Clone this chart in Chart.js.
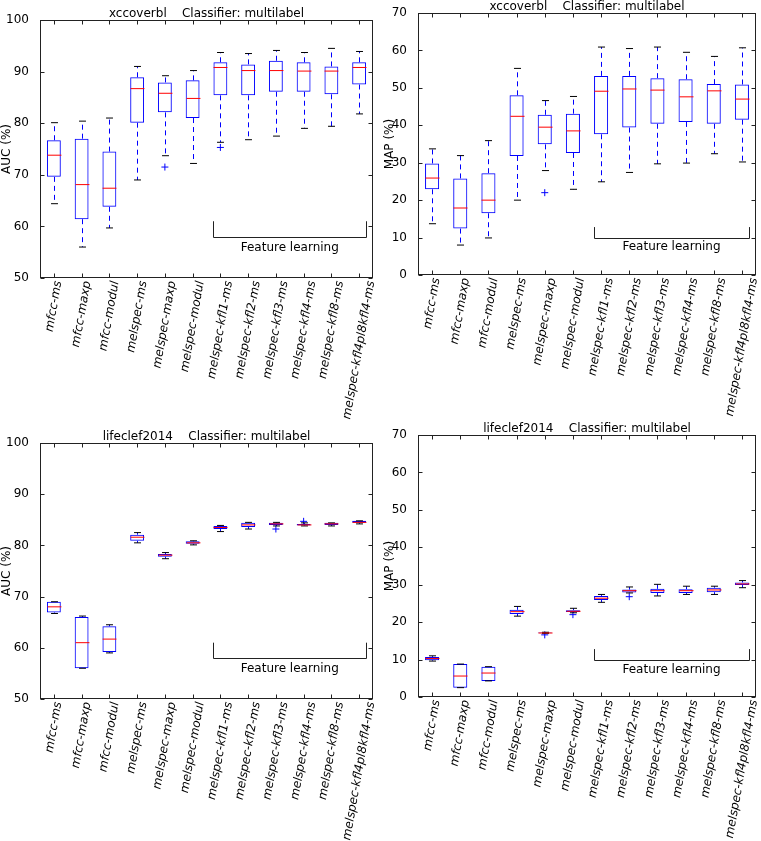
<!DOCTYPE html>
<html lang="en">
<head>
<meta charset="UTF-8">
<title>Boxplots - AUC / MAP</title>
<script src="https://cdn.jsdelivr.net/npm/chart.js"></script>
<style>
  body { margin: 0; background: #fff; }
  canvas { position: absolute; }
</style>
</head>
<body>
<canvas id="c1" width="380" height="420" style="left:0;top:0"></canvas>
<canvas id="c2" width="381" height="420" style="left:380px;top:0"></canvas>
<canvas id="c3" width="380" height="421" style="left:0;top:420px"></canvas>
<canvas id="c4" width="381" height="421" style="left:380px;top:420px"></canvas>
<script>
const categories = ['mfcc-ms', 'mfcc-maxp', 'mfcc-modul', 'melspec-ms', 'melspec-maxp', 'melspec-modul',
  'melspec-kfl1-ms', 'melspec-kfl2-ms', 'melspec-kfl3-ms', 'melspec-kfl4-ms', 'melspec-kfl8-ms', 'melspec-kfl4pl8kfl4-ms'];

// xccoverbl - AUC
const aucXcMin = [64.4, 56.0, 59.7, 69.0, 73.7, 72.2, 76.3, 76.8, 77.5, 79.0, 79.4, 81.8];
const aucXcQ1  = [69.6, 61.4, 63.8, 80.1, 82.1, 81.0, 85.4, 85.4, 86.1, 86.1, 85.6, 87.5];
const aucXcMed = [73.8, 68.1, 67.4, 86.7, 85.8, 84.8, 90.8, 90.2, 90.2, 90.1, 90.1, 90.8];
const aucXcQ3  = [76.7, 77.0, 74.5, 88.9, 87.9, 88.3, 91.8, 91.4, 92.1, 91.8, 91.0, 91.8];
const aucXcMax = [80.1, 80.4, 81.0, 91.0, 89.2, 90.2, 93.7, 93.5, 94.1, 93.7, 94.5, 93.9];
const aucXcOut = [[4, 71.5], [6, 75.3]];

// xccoverbl - MAP
const mapXcMin = [13.7, 8.0, 9.9, 20.0, 27.9, 22.9, 24.9, 27.4, 29.7, 29.9, 32.4, 30.2];
const mapXcQ1  = [22.9, 12.4, 16.5, 31.8, 34.9, 32.6, 37.6, 39.4, 40.4, 40.9, 40.4, 41.5];
const mapXcMed = [25.9, 17.9, 20.0, 42.4, 39.5, 38.5, 49.1, 49.7, 49.4, 47.6, 49.2, 47.0];
const mapXcQ3  = [29.8, 25.8, 27.2, 48.0, 42.8, 43.1, 53.2, 53.2, 52.6, 52.3, 51.0, 50.9];
const mapXcMax = [33.7, 31.9, 35.9, 55.2, 46.6, 47.7, 60.9, 60.5, 60.9, 59.5, 58.4, 60.7];
const mapXcOut = [[4, 22.0]];

// lifeclef2014 - AUC
const aucLcMin = [66.7, 56.0, 59.0, 80.5, 77.4, 80.1, 82.7, 83.2, 83.8, 83.8, 83.8, 84.2];
const aucLcQ1  = [66.9, 56.0, 59.2, 80.9, 77.8, 80.3, 83.2, 83.6, 84.0, 83.9, 84.0, 84.4];
const aucLcMed = [68.0, 61.0, 61.7, 81.6, 78.1, 80.5, 83.5, 84.0, 84.2, 84.0, 84.2, 84.5];
const aucLcQ3  = [69.0, 66.0, 64.2, 82.1, 78.3, 80.8, 83.8, 84.4, 84.4, 84.2, 84.4, 84.8];
const aucLcMax = [69.0, 66.2, 64.5, 82.5, 78.6, 80.9, 83.9, 84.5, 84.5, 84.4, 84.4, 84.8];
const aucLcOut = [[8, 83.2], [9, 84.7]];

// lifeclef2014 - MAP
const mapLcMin = [9.6, 2.5, 4.3, 21.6, 17.0, 22.5, 25.3, 27.8, 27.0, 27.4, 27.4, 29.2];
const mapLcQ1  = [9.8, 2.5, 4.3, 22.2, 17.0, 22.7, 25.9, 27.9, 27.8, 27.8, 28.0, 29.9];
const mapLcMed = [10.3, 5.6, 6.4, 22.8, 17.1, 22.9, 26.4, 28.4, 28.4, 28.4, 28.6, 30.2];
const mapLcQ3  = [10.7, 8.8, 8.1, 23.3, 17.2, 23.2, 27.0, 28.7, 28.9, 28.8, 29.2, 30.6];
const mapLcMax = [11.0, 8.8, 8.1, 24.2, 17.3, 23.7, 27.4, 29.4, 30.1, 29.6, 29.6, 31.1];
const mapLcOut = [[4, 16.6], [5, 22.0], [7, 26.8]];

const FONT = 'DejaVu Sans';
Chart.defaults.font.family = FONT;
Chart.defaults.font.size = 12;
Chart.defaults.color = '#000';

// bracket under the feature learning boxes (category index units)
const bracketFrom = 5.75, bracketTo = 11.25;

function partsPlugin(p) {
  return {
    id: 'parts',
    afterDatasetsDraw(chart) {
      const xs = chart.scales.x, ys = chart.scales.y, ctx = chart.ctx;
      const step = xs.getPixelForValue(1) - xs.getPixelForValue(0);
      const y = v => ys.getPixelForValue(v);
      ctx.save();
      ctx.lineWidth = 1;
      p.med.forEach((m, i) => {
        const x = Math.round(xs.getPixelForValue(i)) + 0.5;
        // whiskers
        ctx.strokeStyle = '#0000ff';
        ctx.setLineDash([5, 4]);
        ctx.beginPath();
        ctx.moveTo(x, y(p.q3[i])); ctx.lineTo(x, y(p.max[i]));
        ctx.moveTo(x, y(p.q1[i])); ctx.lineTo(x, y(p.min[i]));
        ctx.stroke();
        ctx.setLineDash([]);
        // caps
        const cw = step * 0.125;
        ctx.strokeStyle = '#000';
        ctx.beginPath();
        ctx.moveTo(x - cw, y(p.max[i])); ctx.lineTo(x + cw, y(p.max[i]));
        ctx.moveTo(x - cw, y(p.min[i])); ctx.lineTo(x + cw, y(p.min[i]));
        ctx.stroke();
        // median
        const bw = step * 0.25;
        ctx.strokeStyle = '#ff0000';
        ctx.beginPath();
        ctx.moveTo(x - bw, y(m)); ctx.lineTo(x + bw, y(m));
        ctx.stroke();
      });
      ctx.restore();
    },
    afterDraw(chart) {
      const xs = chart.scales.x, ys = chart.scales.y, ctx = chart.ctx;
      const a = chart.chartArea;
      ctx.save();
      // frame
      ctx.strokeStyle = '#222';
      ctx.lineWidth = 1;
      const L = Math.round(a.left) + 0.5, R = Math.round(a.right) - 0.5;
      const T = Math.round(a.top) + 0.5, B = Math.round(a.bottom) - 0.5;
      ctx.strokeRect(L, T, R - L, B - T);
      // inward ticks on all sides
      ctx.beginPath();
      ys.ticks.forEach(t => {
        const yy = Math.round(ys.getPixelForValue(t.value)) + 0.5;
        ctx.moveTo(L, yy); ctx.lineTo(L + 4, yy);
        ctx.moveTo(R, yy); ctx.lineTo(R - 4, yy);
      });
      categories.forEach((c, i) => {
        const xx = Math.round(xs.getPixelForValue(i)) + 0.5;
        ctx.moveTo(xx, B); ctx.lineTo(xx, B - 4);
        ctx.moveTo(xx, T); ctx.lineTo(xx, T + 4);
      });
      ctx.stroke();
      // title
      ctx.fillStyle = '#000';
      ctx.font = '12px "' + FONT + '"';
      ctx.textAlign = 'center';
      ctx.textBaseline = 'alphabetic';
      ctx.fillText(p.title, (a.left + a.right) / 2, a.top - 3.5);
      // rotated category labels, centred on their tick like matplotlib
      ctx.font = 'italic 12px "' + FONT + '"';
      const ang = 80 * Math.PI / 180;
      categories.forEach((c, i) => {
        const w = ctx.measureText(c).width, h = 13;
        const H = w * Math.sin(ang) + h * Math.cos(ang);
        ctx.save();
        ctx.translate(xs.getPixelForValue(i), a.bottom + 2 + H / 2);
        ctx.rotate(-ang);
        ctx.textBaseline = 'middle';
        ctx.fillText(c, 0, 0);
        ctx.restore();
      });
      // feature learning bracket
      const x0 = xs.getPixelForValue(bracketFrom), x1 = xs.getPixelForValue(bracketTo);
      const yHi = ys.getPixelForValue(p.bracket[1]), yLo = Math.round(ys.getPixelForValue(p.bracket[0])) + 0.5;
      ctx.strokeStyle = '#222';
      ctx.beginPath();
      ctx.moveTo(Math.round(x0) + 0.5, yHi); ctx.lineTo(Math.round(x0) + 0.5, yLo);
      ctx.lineTo(Math.round(x1) + 0.5, yLo); ctx.lineTo(Math.round(x1) + 0.5, yHi);
      ctx.stroke();
      ctx.font = '12px "' + FONT + '"';
      ctx.textBaseline = 'middle';
      ctx.fillText('Feature learning', (x0 + x1) / 2, ys.getPixelForValue(p.bracket[2]));
      ctx.restore();
    }
  };
}

function makePanel(id, p) {
  new Chart(document.getElementById(id), {
    type: 'bar',
    data: {
      labels: categories,
      datasets: [{
        data: p.q1.map((v, i) => [v, p.q3[i]]),
        backgroundColor: 'rgba(0,0,0,0)',
        borderColor: '#0000ff',
        borderWidth: 1,
        borderSkipped: false,
        categoryPercentage: 1,
        barPercentage: 0.5
      }, {
        type: 'line',
        data: p.out.map(o => ({ x: categories[o[0]], y: o[1] })),
        showLine: false,
        pointStyle: 'cross',
        pointRadius: 3.5,
        borderColor: '#0000ff',
        borderWidth: 1
      }]
    },
    options: {
      responsive: false,
      animation: false,
      events: [],
      layout: { padding: { left: 0, top: p.padTop, right: p.padRight, bottom: 0 } },
      plugins: { legend: { display: false }, tooltip: { enabled: false } },
      scales: {
        x: {
          offset: true,
          grid: { display: false },
          border: { display: false },
          ticks: { display: false },
          afterFit: s => { s.height = p.xHeight; }
        },
        y: {
          min: p.yMin,
          max: p.yMax,
          grid: { display: false },
          border: { display: false },
          ticks: { stepSize: 10, padding: 3, color: '#000' },
          title: { display: true, text: p.yLabel, color: '#000', padding: { top: p.titlePad, bottom: 0 } },
          afterFit: s => { s.width = p.yWidth; }
        }
      }
    },
    plugins: [partsPlugin(p)]
  });
}

makePanel('c1', {
  title: 'xccoverbl    Classifier: multilabel', yLabel: 'AUC (%)', yMin: 50, yMax: 100,
  min: aucXcMin, q1: aucXcQ1, med: aucXcMed, q3: aucXcQ3, max: aucXcMax, out: aucXcOut,
  bracket: [58, 61, 55.9], padTop: 20, padRight: 7, xHeight: 142, yWidth: 40, titlePad: 0
});
makePanel('c2', {
  title: 'xccoverbl    Classifier: multilabel', yLabel: 'MAP (%)', yMin: 0, yMax: 70,
  min: mapXcMin, q1: mapXcQ1, med: mapXcMed, q3: mapXcQ3, max: mapXcMax, out: mapXcOut,
  bracket: [10, 12.8, 7.4], padTop: 13, padRight: 4, xHeight: 145, yWidth: 38, titlePad: 3
});
makePanel('c3', {
  title: 'lifeclef2014    Classifier: multilabel', yLabel: 'AUC (%)', yMin: 50, yMax: 100,
  min: aucLcMin, q1: aucLcQ1, med: aucLcMed, q3: aucLcQ3, max: aucLcMax, out: aucLcOut,
  bracket: [58, 61, 55.8], padTop: 23, padRight: 7, xHeight: 142, yWidth: 40, titlePad: 0
});
makePanel('c4', {
  title: 'lifeclef2014    Classifier: multilabel', yLabel: 'MAP (%)', yMin: 0, yMax: 70,
  min: mapLcMin, q1: mapLcQ1, med: mapLcMed, q3: mapLcQ3, max: mapLcMax, out: mapLcOut,
  bracket: [10, 12.8, 7.3], padTop: 15, padRight: 4, xHeight: 144, yWidth: 38, titlePad: 3
});
</script>
</body>
</html>
